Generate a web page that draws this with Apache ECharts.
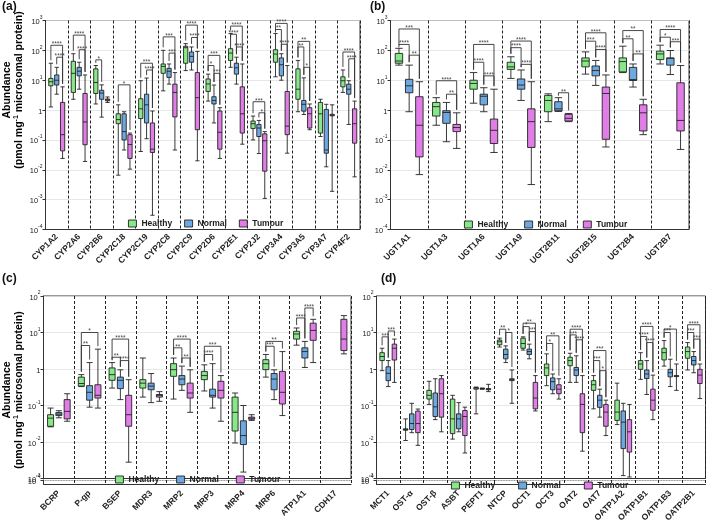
<!DOCTYPE html>
<html><head><meta charset="utf-8">
<script src="https://cdn.jsdelivr.net/npm/echarts@6/dist/echarts.min.js"></script>
<style>html,body{margin:0;padding:0;background:#fff}#c{width:709px;height:528px}</style>
</head><body><div id="c"></div><script>
const SERIES = ['Healthy', 'Normal', 'Tumour'];
const COLORS = ['#86E886', '#6EA8E0', '#E07DE6'];

// ---------- Panel (a) ----------
const catsA = ['CYP1A2','CYP2A6','CYP2B6','CYP2C18','CYP2C19','CYP2C8','CYP2C9','CYP2D6','CYP2E1','CYP2J2','CYP3A4','CYP3A5','CYP3A7','CYP4F2'];
const healthyA = [
  [1.27,6.5,8.9,11.5,37],[2.3,3.9,17,43,77],[1.6,3.6,8.4,24,31],[0.0066,0.35,0.48,0.75,1.5],
  [0.041,0.52,1.1,2.4,9.6],[4.4,17,29,35,100],[21,37,123,137,168],[2.0,4.2,7.5,11,16],
  [27,46,81,114,365],[0.1,0.24,0.35,0.43,0.63],[13,40,75,105,365],[0.88,2.3,5,24,46],
  [0.13,0.17,0.75,1.8,2.3],[3.9,6,9.6,13,22]];
const normalA = [
  [3.4,6.9,10,15,27],[5,14,20,27,40],[0.58,2.3,3.7,4.6,7],[0.046,0.1,0.19,0.75,0.88],
  [0.11,0.37,1.5,3.4,11.8],[7.4,12.4,20,25,35],[22,40,63,88,130],[0.37,1.6,2.1,2.8,6.9],
  [7.4,16,26,37,59],[0.035,0.13,0.25,0.33,0.45],[10,14,33,56,77],[0.71,0.92,1.56,2.1,12],
  [0.0126,0.036,0.046,1.05,1.56],[0.33,3.4,5,7.4,9.6]];
const tumourA = [
  [0.024,0.043,0.15,1.8,6],[0.019,0.069,0.4,3.6,15],[1.8,2.05,2.2,2.35,2.75],[0.0105,0.024,0.07,0.15,0.17],
  [0.0003,0.038,0.049,0.37,0.93],[0.046,0.59,3.9,7.4,18],[0.02,0.22,2.6,18,92],[0.024,0.049,0.18,0.93,1.2],
  [0.072,0.17,0.75,6,35],[0.0011,0.009,0.094,0.16,0.19],[0.036,0.15,0.29,4.2,31],[0.22,0.25,0.75,1.2,1.6],
  [0.0019,0.64,0.68,0.72,1.5],[0.0058,0.078,0.35,1.1,2]];
// [category, fromGroup, toGroup, level, stars]
const sigA = [
  [0,0,2,148,4],[0,1,2,59,4],[1,0,2,323,4],[1,1,2,105,4],[2,0,1,48,1],[3,0,2,7,1],
  [4,0,2,37,3],[4,1,2,22,4],[5,0,2,283,3],[5,1,2,81,3],[6,0,2,700,4],[6,1,2,270,4],
  [7,0,2,68,3],[7,0,1,31,1],[7,1,2,17,3],[8,0,2,650,4],[8,0,1,347,4],[8,1,2,130,4],
  [9,0,2,1.9,3],[9,1,2,0.81,1],[10,0,2,800,4],[10,0,1,500,2],[10,1,2,160,4],
  [11,0,2,200,2],[11,0,1,130,2],[11,1,2,27,1],[13,0,2,88,4],[13,1,2,52,4]];

// ---------- Panel (b) ----------
const catsB = ['UGT1A1','UGT1A3','UGT1A6','UGT1A9','UGT2B11','UGT2B15','UGT2B4','UGT2B7'];
const healthyB = [[32,37,44,79,117],[0.31,0.63,1.3,1.8,2.6],[1.7,5,7.8,10,18],[11.5,23,28,40,61],
  [0.41,0.88,2.1,3.1,3.5],[16,28,44,56,89],[18,19,42,56,138],[35,49,76,94,149]];
const normalB = [[0.88,3.8,6.5,10.7,32],[0.087,0.36,0.83,0.95,1.8],[0.88,1.5,2.9,3.4,5.6],[2.1,5,6.9,11,22],
  [0.9,0.95,1.1,1.9,2.6],[6.7,14,21,30,46],[5.9,9.8,10.5,27,35],[15.5,32,54,56,99]];
const tumourB = [[0.0069,0.027,0.31,2.8,8.9],[0.052,0.19,0.26,0.33,0.81],[0.038,0.076,0.21,0.5,5],[0.0032,0.056,0.41,1.1,8.9],
  [0.41,0.43,0.53,0.72,0.77],[0.058,0.105,3.6,5.9,15],[0.15,0.2,0.81,1.5,2.3],[0.048,0.2,0.45,8.2,31]];
const sigB = [
  [0,0,2,520,3],[0,0,1,158,4],[0,1,2,69,2],[1,0,2,9.6,4],[1,1,2,3.4,2],
  [2,0,2,158,4],[2,0,1,40,4],[2,1,2,14,4],[3,0,2,205,4],[3,0,1,123,4],[3,1,2,34,4],
  [4,1,2,3.8,2],[5,0,2,387,4],[5,0,1,203,3],[5,1,2,107,4],
  [6,0,2,460,2],[6,0,1,244,2],[6,1,2,76,2],[7,0,2,500,4],[7,0,1,276,1],[7,1,2,194,3]];

// ---------- Panel (c) ----------
const catsC = ['BCRP','P-gp','BSEP','MDR3','MRP2','MRP3','MRP4','MRP6','ATP1A1','CDH17'];
const healthyC = [[0.026,0.027,0.045,0.056,0.085],[0.33,0.34,0.4,0.6,0.7],[0.3,0.49,0.7,1.07,1.5],[0.17,0.3,0.41,0.51,2.0],
  [0.15,0.63,0.96,1.4,2.0],[0.25,0.51,0.66,0.86,1.3],[0.0094,0.02,0.065,0.17,0.22],[0.6,0.96,1.4,1.8,2.5],
  [4.5,6.6,9.1,10.8,13.3],null];
const normalC = [[0.046,0.053,0.058,0.064,0.072],[0.09,0.14,0.23,0.35,1.5],[0.145,0.29,0.49,0.6,0.95],[0.12,0.27,0.34,0.41,0.75],
  [0.26,0.37,0.53,0.66,1.2],[0.085,0.17,0.19,0.28,1.4],[0.0015,0.0085,0.015,0.038,0.1],[0.145,0.27,0.53,0.75,0.95],
  [1.1,2.0,3.0,3.8,5.7],null];
const tumourC = [[0.037,0.043,0.069,0.145,0.21],[0.085,0.16,0.19,0.37,3.5],[0.0028,0.027,0.056,0.19,0.51],[0.13,0.17,0.19,0.2,0.24],
  [0.065,0.16,0.22,0.41,0.95],[0.037,0.16,0.26,0.46,0.66],[0.039,0.042,0.045,0.048,0.056],[0.053,0.11,0.23,0.86,3.0],
  [1.5,6.1,11.4,18,23],[2.6,3.2,6.6,23,29]];
const sigC = [
  [1,0,2,10,1],[1,0,1,4.4,2],[2,0,2,6.6,4],[2,0,1,2.1,2],[2,1,2,1.7,4],
  [4,0,2,6.6,4],[4,0,1,3.8,2],[4,1,2,2.0,2],[5,0,2,4.2,3],[5,0,1,2.5,4],
  [7,0,2,5.7,2],[7,0,1,4.2,3],[8,0,1,25,4],[8,1,2,47,4]];

// ---------- Panel (d) ----------
const catsD = ['MCT1','OST-α','OST-β','ASBT','PEPT1','NTCP','OCT1','OCT3','OAT2','OAT7','OATP1A2','OATP1B1','OATP1B3','OATP2B1'];
const healthyD = [[0.9,1.7,2.2,2.8,3.7],[0.011,0.021,0.022,0.023,0.043],[0.107,0.15,0.19,0.26,0.46],[0.012,0.017,0.043,0.15,0.19],
  [0.059,0.28,0.3,0.31,0.32],[4.0,4.6,5.6,6.2,7],[3.3,3.7,5,7,7.6],[0.35,0.66,1.07,1.37,2.6],
  [0.43,1.23,1.7,2.1,2.7],[0.081,0.26,0.37,0.48,0.66],[0.03,0.039,0.066,0.14,0.41],[0.52,0.98,1.37,1.7,2.8],
  [1.2,1.77,2.8,3.7,6],[0.94,1.97,3.0,4.0,5.3]];
const normalD = [[0.33,0.48,0.76,1.15,1.7],[0.018,0.022,0.032,0.059,0.115],[0.041,0.05,0.092,0.22,0.54],[0.019,0.023,0.043,0.059,0.12],
  [0.28,0.285,0.29,0.295,0.3],[1.5,1.9,2.5,3.5,4.3],[1.9,2.5,3.0,3.5,4.8],[0.21,0.27,0.45,0.57,0.73],
  [0.43,0.66,0.94,1.1,2.3],[0.048,0.089,0.14,0.19,0.28],[0.0012,0.0066,0.035,0.071,0.115],[0.2,0.55,0.73,0.94,1.7],
  [0.33,0.61,0.79,0.98,1.85],[0.79,1.29,1.7,2.2,3.0]];
const tumourD = [[0.43,1.76,3.7,4.8,6.6],[0.0081,0.018,0.032,0.07,0.08],[0.019,0.048,0.21,0.54,0.66],[0.005,0.015,0.05,0.073,0.09],
  [0.24,0.27,0.28,0.29,0.38],[0.115,0.48,0.51,0.54,0.94],[0.071,0.081,0.16,0.43,0.66],[0.15,0.21,0.28,0.37,0.54],
  [0.0056,0.018,0.107,0.21,0.66],[0.015,0.027,0.066,0.107,0.14],[0.0011,0.0053,0.019,0.041,0.107],[0.041,0.074,0.14,0.28,0.68],
  [0.26,0.62,0.64,0.66,1.37],[0.155,0.4,0.68,0.98,1.37]];
const sigD = [
  [0,0,1,7.6,3],[0,1,2,11,3],[5,0,1,12.3,2],[5,1,2,10,1],
  [6,0,2,18,2],[6,0,1,14.5,1],[6,1,2,10.6,3],[7,0,2,8.1,2],[7,0,1,5,1],
  [8,0,2,12.3,4],[8,0,1,8.6,3],[8,1,2,6.3,4],[9,0,2,3.2,3],[9,0,1,1.7,3],[9,1,2,0.9,1],
  [11,0,2,14.7,4],[11,0,1,7.8,4],[11,1,2,5.3,4],[12,0,2,12.4,1],[12,0,1,10,3],
  [13,0,2,16.3,4],[13,0,1,10,3],[13,1,2,6.6,3]];

// ---------- build ----------
const FONT = 'Liberation Sans';
const panels = [
  {cats: catsA, groups: [healthyA, normalA, tumourA], sig: sigA},
  {cats: catsB, groups: [healthyB, normalB, tumourB], sig: sigB},
  {cats: catsC, groups: [healthyC, normalC, tumourC], sig: sigC},
  {cats: catsD, groups: [healthyD, normalD, tumourD], sig: sigD}
];

const grid = [
  {left: 45.5, top: 20.5, width: 314.5, height: 209},
  {left: 390.5, top: 20.5, width: 298.5, height: 209},
  {left: 43.5, top: 296, width: 307.5, height: 182.5},
  {left: 376.5, top: 296, width: 329, height: 182.5},
  {left: 43.5, top: 480, width: 307.5, height: 4},
  {left: 376.5, top: 480, width: 329, height: 4}
].map((g, i) => Object.assign({show: i < 4, borderColor: '#333', borderWidth: 1, containLabel: false}, g));

function yLabel(v) {
  const e = Math.round(Math.log10(v));
  if (e === 0) return '{b|1}';
  return '{b|10}{s|' + e + '}';
}
const yRich = {
  b: {fontSize: 7.5, fontFamily: FONT, color: '#222', lineHeight: 11, verticalAlign: 'bottom'},
  s: {fontSize: 5, fontFamily: FONT, color: '#222', lineHeight: 7, verticalAlign: 'top'}
};

function xAxisFor(i, cats, showLabel, margin) {
  return {
    type: 'category', gridIndex: i, data: cats,
    axisLine: {show: true, lineStyle: {color: '#333', width: 1}},
    axisTick: {show: false},
    splitLine: {show: true, lineStyle: {type: [3, 2], color: '#222', width: 1}},
    axisLabel: {show: showLabel, interval: 0, rotate: 45, margin: margin, fontSize: 8.5, fontWeight: 'bold',
      fontFamily: FONT, color: '#222'}
  };
}
function yAxisFor(i, min, max) {
  return {
    type: 'log', logBase: 10, gridIndex: i, min: min, max: max,
    axisLine: {show: true, lineStyle: {color: '#333', width: 1}},
    axisTick: {show: true, length: 3, lineStyle: {color: '#333'}},
    splitLine: {show: true, lineStyle: {color: i >= 4 ? '#888' : '#e2e2e2', width: 0.8, type: i >= 4 ? 'dotted' : 'solid'}},
    axisLabel: {formatter: yLabel, rich: yRich, margin: 3, fontSize: i >= 4 ? 6 : 7.5}
  };
}

const xAxis = [
  xAxisFor(0, catsA, true, 6), xAxisFor(1, catsB, true, 6), xAxisFor(2, catsC, false, 6), xAxisFor(3, catsD, false, 6),
  xAxisFor(4, catsC, true, 8), xAxisFor(5, catsD, true, 8)
];
const yAxis = [
  yAxisFor(0, 1e-4, 1e3), yAxisFor(1, 1e-4, 1e3), yAxisFor(2, 1e-3, 1e2), yAxisFor(3, 1e-3, 1e2),
  yAxisFor(4, 1e-5, 1e-4), yAxisFor(5, 1e-5, 1e-4)
];

const series = [];
panels.forEach((p, pi) => {
  p.groups.forEach((data, g) => {
    const s = {
      type: 'boxplot', name: SERIES[g], xAxisIndex: pi, yAxisIndex: pi,
      boxWidth: [3, 50],
      itemStyle: {color: COLORS[g], borderColor: '#222', borderWidth: 0.9},
      data: data.map(d => d ? d : ['-', '-', '-', '-', '-'])
    };
    if (g === 0 && pi !== 0) {
      s.markLine = {silent: true, symbol: 'none', label: {show: false},
        lineStyle: {type: 'dotted', color: '#666', width: 1}, data: [{yAxis: 0.001}]};
    }
    series.push(s);
  });
  series.push({
    type: 'custom', xAxisIndex: pi, yAxisIndex: pi, silent: true, z: 5, clip: false,
    data: p.sig.map(s => [s[0], s[3], s[1], s[2], p.groups[s[1]][s[0]][4], p.groups[s[2]][s[0]][4], s[4]]),
    renderItem: function (params, api) {
      const cat = api.value(0), level = api.value(1), g1 = api.value(2), g2 = api.value(3);
      const m1 = api.value(4), m2 = api.value(5), stars = api.value(6);
      const bw = api.size([1, 0])[0];
      const avail = bw * 0.8 - 2, gap = avail / 3 * 0.3, boxW = (avail - 2 * gap) / 3;
      const step = boxW + gap;
      const pt = api.coord([cat, level]);
      const x1 = pt[0] + (g1 - 1) * step, x2 = pt[0] + (g2 - 1) * step, y = pt[1];
      const y1 = Math.max(api.coord([cat, m1])[1] - 3, y + 3);
      const y2 = Math.max(api.coord([cat, m2])[1] - 3, y + 3);
      return {type: 'group', children: [
        {type: 'polyline', shape: {points: [[x1, y1], [x1, y], [x2, y], [x2, y2]]},
          style: {stroke: '#333', fill: null, lineWidth: 0.9}},
        {type: 'text', style: {text: '*'.repeat(stars), x: (x1 + x2) / 2, y: y + 2.5, align: 'center',
          verticalAlign: 'bottom', fontSize: 6.5, fontFamily: FONT, fill: '#444'}}
      ]};
    }
  });
});

const legendBase = {
  data: SERIES.map((n, g) => ({name: n, itemStyle: {color: COLORS[g], borderColor: '#222', borderWidth: 0.9}})),
  orient: 'horizontal', icon: 'rect', itemWidth: 8, itemHeight: 7, padding: 0,
  textStyle: {fontSize: 8.5, fontWeight: 'bold', fontFamily: FONT, color: '#222'}
};
const legend = [
  Object.assign({}, legendBase, {left: 128, top: 219, itemGap: 12}),
  Object.assign({}, legendBase, {left: 464, top: 220, itemGap: 16}),
  Object.assign({}, legendBase, {left: 115, top: 475, itemGap: 17}),
  Object.assign({}, legendBase, {left: 451, top: 481, itemGap: 23})
];

const titleRich = {
  b: {fontSize: 10.5, fontWeight: 'bold', fontFamily: FONT, color: '#111', lineHeight: 12},
  s: {fontSize: 7, fontWeight: 'bold', fontFamily: FONT, color: '#111', lineHeight: 12, verticalAlign: 'top', padding: [0, 0, 3, 0]}
};
function yTitle(x, y) {
  return {type: 'text', x: x, y: y, rotation: Math.PI / 2, silent: true,
    style: {text: '{b|Abundance}\n{b|(pmol mg}{s|-1}{b| microsomal protein)}', rich: titleRich,
      align: 'center', verticalAlign: 'middle'}};
}
function panelLabel(t, x, y) {
  return {type: 'text', x: x, y: y, silent: true,
    style: {text: t, fontSize: 12, fontWeight: 'bold', fontFamily: FONT, fill: '#111'}};
}

const chart = echarts.init(document.getElementById('c'), null, {renderer: 'canvas'});
chart.setOption({
  animation: false,
  backgroundColor: '#fff',
  textStyle: {fontFamily: FONT},
  grid, xAxis, yAxis, series, legend,
  graphic: [
    yTitle(13, 90), yTitle(13, 390),
    panelLabel('(a)', 2, 1), panelLabel('(b)', 370, 1), panelLabel('(c)', 2, 273), panelLabel('(d)', 381, 273)
  ]
});
</script></body></html>
